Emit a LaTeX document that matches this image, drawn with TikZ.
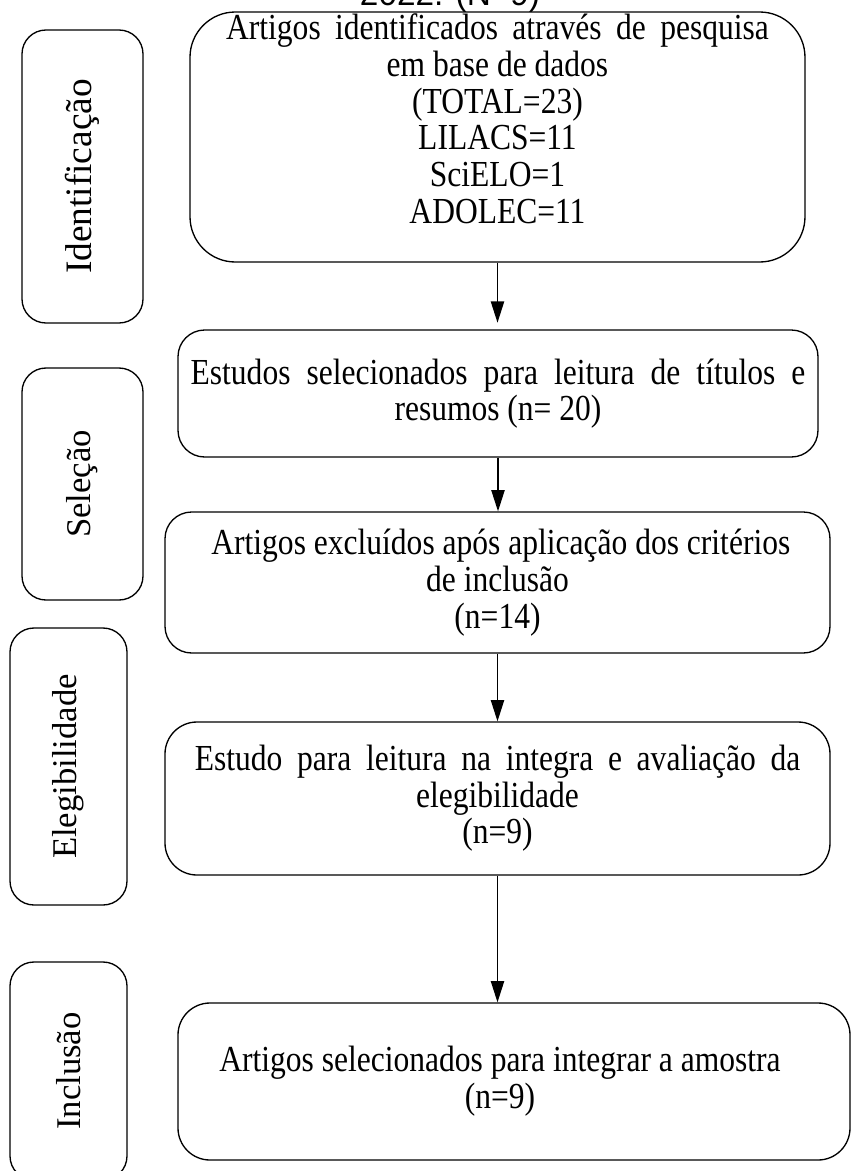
\documentclass[tikz,border=0pt]{standalone}
\usepackage{fontspec}
\setmainfont{Liberation Serif}
\setsansfont{Liberation Sans}
\newfontfamily\narrowfont{Liberation Serif}[FakeStretch=0.86]
\usepackage{tikz}
\usetikzlibrary{arrows.meta,shapes}

\tikzset{
  etapa/.style={draw, line width=1pt, rounded corners=20pt, align=center,
    font=\narrowfont\fontsize{27.5}{27.5}\selectfont, inner sep=0pt},
  fase/.style={draw, line width=1pt, rounded corners=18pt, inner sep=0pt,
    font=\fontsize{26}{28}\selectfont},
  seta/.style={line width=1pt, -{Triangle[length=16pt,width=10pt]}}
}

\begin{document}
\begin{tikzpicture}[x=0.75pt,y=-0.75pt]
    \useasboundingbox (0,0) rectangle (853,1171);
    % titulo cortado
    \node[anchor=base, font=\sffamily\fontsize{25}{27}\selectfont] (ano) at (450,5) {2022. (N=9)};
    % fases
    \node[fase, font=\fontsize{28}{30}\selectfont, minimum width=90.75pt, minimum height=219.75pt] (ident) at (82.5,176.5) {\rotatebox{90}{Identificação}};
    \node[fase, minimum width=90.75pt, minimum height=174pt] (selec) at (82.5,484) {\rotatebox{90}{Seleção}};
    \node[fase, minimum width=87.75pt, minimum height=207.75pt] (eleg) at (68.5,766.5) {\rotatebox{90}{Elegibilidade}};
    \node[fase, minimum width=87.75pt, minimum height=163.5pt] (incl) at (68.5,1071) {\rotatebox{90}{Inclusão}};
    % etapas
    \node[etapa, rounded corners=34pt, minimum width=461.25pt, minimum height=187.5pt] (artigos) at (497.5,137)
        {\makebox[407pt][s]{Artigos identificados através de pesquisa}\\ em base de dados\\ (TOTAL=23)\\ LILACS=11\\ SciELO=1\\ ADOLEC=11\\ \mbox{}};
    \node[etapa, minimum width=480pt, minimum height=95.25pt] (estudos) at (498,393.5)
        {\makebox[461pt][s]{Estudos selecionados para leitura de títulos e}\\ resumos (n= 20)};
    \node[etapa, minimum width=498.75pt, minimum height=105.75pt] (excluidos) at (497.5,582.5)
        {\hspace{5pt}Artigos excluídos após aplicação dos critérios\\ de inclusão\\ (n=14)};
    \node[etapa, rounded corners=24pt, minimum width=498.75pt, minimum height=114.75pt] (leitura) at (497.5,798.5)
        {\makebox[454pt][s]{Estudo para leitura na integra e avaliação da}\\ elegibilidade\\ (n=9)};
    \node[etapa, rounded corners=24pt, minimum width=504pt, minimum height=117.75pt] (amostra) at (514,1081.5)
        {\hspace{-21pt}Artigos selecionados para integrar a amostra\\ \hspace{-21pt}(n=9)};
    % setas
    \draw[seta, shorten >=5pt] (artigos.south) -- (artigos.south |- estudos.north);
    \draw[seta] (estudos.south) -- (estudos.south |- excluidos.north);
    \draw[seta] (excluidos.south) -- (excluidos.south |- leitura.north);
    \draw[seta] (leitura.south) -- (leitura.south |- amostra.north);
\end{tikzpicture}
\end{document}
